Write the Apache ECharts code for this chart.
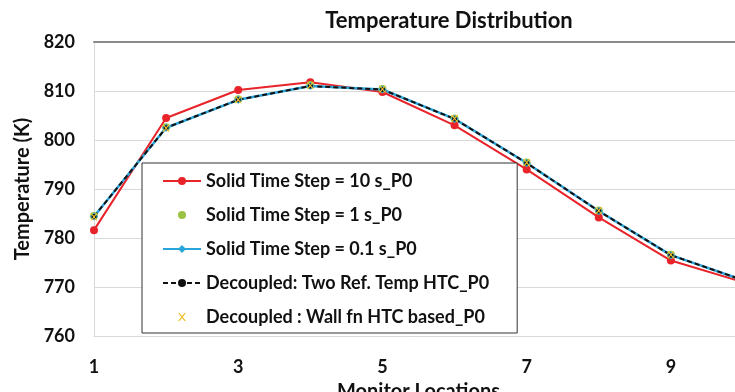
<!DOCTYPE html>
<html>
<head>
<meta charset="utf-8">
<script src="https://cdn.jsdelivr.net/npm/echarts@6/dist/echarts.min.js"></script>
<style>
html, body { margin: 0; padding: 0; background: #fff; }
#chart { width: 735px; height: 392px; }
</style>
</head>
<body>
<div id="chart"></div>
<script>
// monitor locations 1..10
var locations = ['1', '2', '3', '4', '5', '6', '7', '8', '9', '10'];
var step10s = [781.6, 804.5, 810.2, 811.8, 809.8, 803.0, 794.0, 784.2, 775.4, 771.0];
var step1s = [784.5, 802.6, 808.3, 811.2, 810.4, 804.4, 795.4, 785.6, 776.6, 771.4];
var step01s = [784.4, 802.5, 808.2, 811.0, 810.3, 804.3, 795.3, 785.5, 776.5, 771.4];
var twoRefHtc = [784.4, 802.5, 808.2, 811.0, 810.3, 804.3, 795.3, 785.5, 776.5, 771.4];
var wallFnHtc = [784.3, 802.4, 808.2, 811.1, 810.4, 804.4, 795.4, 785.6, 776.6, 771.4];

var font = 'Lato, "Open Sans", sans-serif';
var chart = echarts.init(document.getElementById('chart'));

var option = {
    backgroundColor: '#fff',
    animation: false,
    textStyle: { fontFamily: font },
    title: {
        text: 'Temperature Distribution',
        left: 444,
        textAlign: 'center',
        top: 5,
        textStyle: { fontFamily: font, fontSize: 22, fontWeight: 'bold', color: '#111' }
    },
    grid: { left: 94, right: -8, top: 42, bottom: 56, outerBoundsMode: 'none', containLabel: false },
    legend: {
        orient: 'vertical',
        left: 142,
        top: 163,
        padding: [9, 28, 7, 20],
        itemGap: 16,
        itemWidth: 38,
        itemHeight: 10,
        backgroundColor: '#fff',
        borderColor: '#333',
        borderWidth: 1,
        textStyle: { fontFamily: font, fontSize: 18, fontWeight: 'bold', color: '#111' },
        data: ['Solid Time Step = 10 s_P0', 'Solid Time Step = 1 s_P0', 'Solid Time Step = 0.1 s_P0',
               'Decoupled: Two Ref. Temp HTC_P0', 'Decoupled : Wall fn HTC based_P0']
    },
    xAxis: [{
        type: 'category',
        data: locations,
        boundaryGap: false,
        name: 'Monitor Locations',
        nameLocation: 'middle',
        nameGap: 46,
        nameTextStyle: { fontFamily: font, fontSize: 20, fontWeight: 'bold', color: '#111' },
        axisLine: { lineStyle: { color: '#d9d9d9' } },
        axisTick: { show: false },
        axisLabel: { interval: 1, margin: 22, fontSize: 18, fontWeight: 'bold', color: '#111', fontFamily: font }
    }, {
        type: 'category',
        data: locations,
        boundaryGap: false,
        position: 'top',
        axisLine: { lineStyle: { color: '#8a8a8a', width: 2 } },
        axisTick: { show: false },
        axisLabel: { show: false }
    }],
    yAxis: {
        type: 'value',
        min: 760,
        max: 820,
        interval: 10,
        name: 'Temperature (K)',
        nameLocation: 'middle',
        nameGap: 50,
        nameTextStyle: { fontFamily: font, fontSize: 20, fontWeight: 'bold', color: '#111' },
        axisLine: { show: true, lineStyle: { color: '#d9d9d9' } },
        axisTick: { show: false },
        axisLabel: { margin: 19, fontSize: 18, fontWeight: 'bold', color: '#111', fontFamily: font },
        splitLine: { lineStyle: { color: '#d9d9d9' } }
    },
    series: [{
        name: 'Solid Time Step = 10 s_P0',
        type: 'line',
        data: step10s,
        symbol: 'circle',
        symbolSize: 8,
        color: '#e8232a',
        lineStyle: { width: 2, color: '#e8232a' }
    }, {
        name: 'Solid Time Step = 1 s_P0',
        type: 'line',
        data: step1s,
        symbol: 'circle',
        symbolSize: 8,
        color: '#9cc243',
        lineStyle: { width: 0, opacity: 0 }
    }, {
        name: 'Solid Time Step = 0.1 s_P0',
        type: 'line',
        data: step01s,
        symbol: 'diamond',
        symbolSize: 8,
        color: '#2aa5dc',
        lineStyle: { width: 2.5, color: '#2aa5dc' }
    }, {
        name: 'Decoupled: Two Ref. Temp HTC_P0',
        type: 'line',
        data: twoRefHtc,
        symbol: 'circle',
        symbolSize: 5,
        color: '#111',
        lineStyle: { width: 2, color: '#111', type: [5, 3] }
    }, {
        name: 'Decoupled : Wall fn HTC based_P0',
        type: 'line',
        data: wallFnHtc,
        symbol: 'path://M0,0L2,0L5,3L8,0L10,0L6,4L10,8L8,8L5,5L2,8L0,8L4,4Z',
        symbolSize: 7,
        color: '#f2c12e',
        lineStyle: { width: 0, opacity: 0 }
    }]
};
chart.setOption(option);
</script>
</body>
</html>
